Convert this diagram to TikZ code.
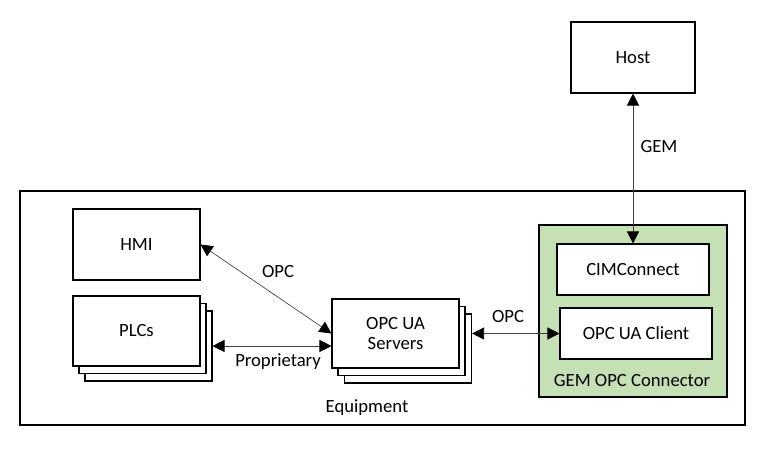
\documentclass[tikz,border=0pt]{standalone}
\usepackage{fontspec}
\setmainfont{Carlito}
\usetikzlibrary{arrows.meta,calc}
\definecolor{gemgreen}{HTML}{C5E0B4}
\begin{document}
\begin{tikzpicture}[x=0.75pt,y=-0.75pt,
  font=\fontsize{14}{16}\selectfont,
  box/.style={draw=black,line width=0.8pt,fill=white,minimum width=#1*0.75pt,inner sep=0pt,align=center},
  box/.default=127,
  link/.style={draw=black!75,line width=0.5pt,{Triangle[length=9pt,width=9pt,color=black]}-{Triangle[length=9pt,width=9pt,color=black]}},
  lbl/.style={inner sep=0pt}]
\useasboundingbox (0,0) rectangle (770,460);
% equipment frame
\node[draw,line width=0.8pt,minimum width=725*0.75pt,minimum height=234*0.75pt,inner sep=0pt] (equip) at (382.5,308) {};
\node[lbl] (equiplbl) at (367,408) {Equipment};
% green connector
\node[draw,line width=0.8pt,fill=gemgreen,minimum width=188*0.75pt,minimum height=172*0.75pt,inner sep=0pt] (gem) at (633,311) {};
\node[lbl] (gemlbl) at (632,381) {GEM OPC Connector};
% host
\node[box=124,minimum height=71*0.75pt] (host) at (633,57.5) {Host};
% CIMConnect & client
\node[box=152,minimum height=51*0.75pt] (cim) at (633,269.5) {CIMConnect};
\node[box=152,minimum height=51*0.75pt] (client) at (636,333.5) {OPC UA Client};
% HMI
\node[box,minimum height=71*0.75pt] (hmi) at (136.5,244.5) {HMI};
% PLC stack
\node[box,minimum height=70*0.75pt] (plc3) at (148.5,346) {};
\node[box,minimum height=70*0.75pt] (plc2) at (142.5,338.5) {};
\node[box,minimum height=70*0.75pt] (plc) at (136.5,331) {PLCs};
% Server stack
\node[box,minimum height=69*0.75pt] (srv3) at (408,348.5) {};
\node[box,minimum height=69*0.75pt] (srv2) at (401.5,341) {};
\node[box,minimum height=69*0.75pt] (srv) at (395.5,333.5) {OPC UA\\[-1pt]Servers};
% connectors
\draw[link] (host.south) -- (cim.north);
\node[lbl] (geml) at (659,147) {GEM};
\draw[link] (hmi.east) -- (srv.west);
\node[lbl] (opc1) at (278,272) {OPC};
\draw[link] (plc3.east) -- (plc3.east -| srv.west);
\node[lbl] (prop) at (278,362) {Proprietary};
\draw[link] (srv.east -| srv3.east) -- (client.west);
\node[lbl] (opc2) at (508,317) {OPC};
\end{tikzpicture}
\end{document}
